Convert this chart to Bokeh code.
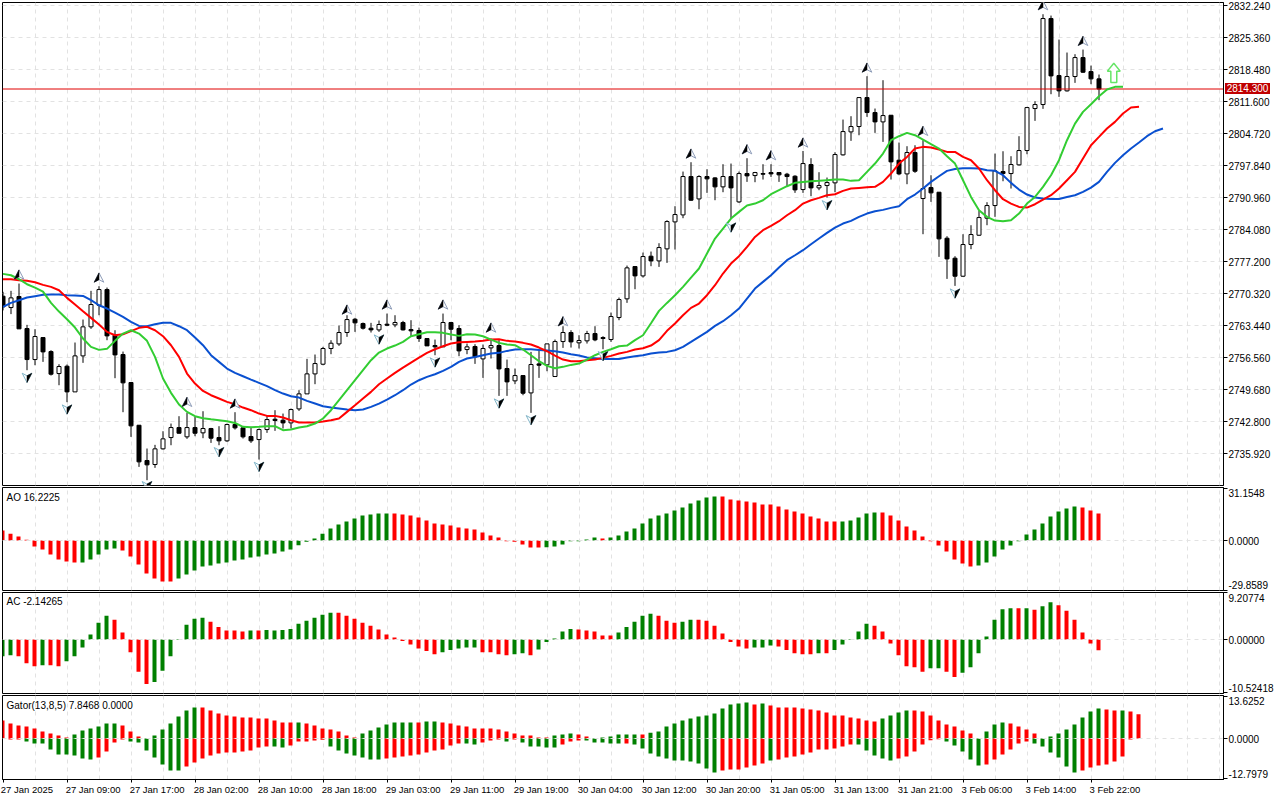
from bokeh.plotting import figure
from bokeh.layouts import column
from bokeh.embed import file_html
from bokeh.resources import INLINE
from bokeh.models import Range1d, FixedTicker, Label, Span, PrintfTickFormatter, LinearAxis, Div

# ---------- data ----------
opens = [2769.75,2767.31,2769.68,2762.8,2756.13,2760.86,2757.85,2753.12,2754.7,2749.18,
2756.92,2763.16,2767.81,2771.18,2761.36,2757.21,2751.19,2742.01,2734.42,2733.56,
2736.93,2739.36,2741.51,2739.51,2741.51,2740.37,2741.3,2739.36,2738.65,2742.16,
2741.44,2739.58,2738.93,2741.08,2743.3,2743.09,2742.51,2745.52,2748.75,2753.05,
2755.13,2758.5,2759.5,2761.94,2764.8,2763.87,2762.87,2762.51,2763.73,2763.59,
2764.09,2762.58,2762.37,2760.65,2759.14,2758.86,2764.09,2762.8,2758.28,2758.93,
2756.27,2758.64,2759.14,2754.2,2751.55,2752.69,2748.96,2755.2,2754.99,2752.48,
2760.0,2761.94,2759.72,2760.15,2761.72,2760.86,2760.43,2765.16,2769.18,2776.13,
2774.12,2778.35,2777.34,2779.93,2785.73,2787.23,2795.48,2790.67,2795.48,2795.19,
2793.26,2795.48,2790.03,2796.12,2795.69,2796.12,2796.34,2796.34,2795.98,2795.55,
2792.68,2798.06,2793.04,2793.54,2794.12,2800.14,2805.08,2806.23,2812.46,2809.24,
2807.23,2808.66,2798.99,2796.05,2800.64,2790.75,2793.11,2792.11,2782.22,2777.92,
2774.05,2780.86,2782.86,2786.52,2789.24,2796.55,2796.12,2797.99,2801.07,2810.1,
2810.96,2829.45,2817.19,2813.9,2816.98,2821.06,2818.05,2816.48]
highs = [2770.7,2770.9,2772.47,2763.59,2762.65,2760.9,2758.14,2755.13,2755.06,2759.79,
2764.73,2770.9,2771.9,2771.61,2762.44,2757.85,2751.2,2742.02,2737.0,2737.79,
2740.72,2742.37,2743.95,2744.67,2743.8,2745.02,2741.44,2741.8,2742.37,2744.81,
2741.66,2741.66,2741.3,2744.16,2745.24,2744.52,2745.6,2749.54,2756.28,2757.21,
2758.86,2760.29,2763.44,2765.66,2765.09,2764.09,2764.02,2764.52,2766.02,2765.66,
2764.45,2764.59,2763.0,2760.65,2760.43,2766.02,2764.23,2763.51,2759.57,2759.43,
2759.36,2760.65,2760.29,2756.13,2754.2,2752.69,2757.78,2758.14,2759.5,2760.43,
2763.3,2762.44,2761.36,2762.3,2763.3,2761.15,2766.24,2769.46,2776.34,2776.13,
2779.14,2779.35,2781.14,2786.09,2789.1,2796.55,2798.56,2795.76,2797.05,2795.33,
2798.13,2798.27,2796.55,2799.42,2796.48,2798.13,2798.13,2796.34,2796.27,2795.76,
2800.98,2799.42,2796.41,2795.26,2800.71,2807.73,2808.45,2812.46,2817.05,2810.1,
2816.19,2808.66,2802.79,2802.0,2802.21,2803.29,2795.76,2792.11,2782.65,2778.35,
2783.08,2785.01,2788.09,2789.96,2800.42,2800.92,2799.85,2804.15,2810.46,2811.67,
2830.38,2830.09,2824.93,2822.14,2821.78,2822.78,2819.34,2817.41]
lows = [2766.7,2765.9,2762.7,2753.84,2754.91,2755.63,2752.69,2750.61,2746.96,2749.18,
2755.42,2762.73,2765.66,2760.29,2752.12,2744.81,2739.5,2733.05,2730.19,2732.84,
2736.78,2737.71,2740.22,2739.08,2739.65,2739.22,2738.21,2737.71,2738.43,2741.08,
2739.15,2738.21,2734.63,2740.37,2740.8,2741.3,2741.3,2745.09,2748.75,2750.83,
2754.91,2757.28,2759.07,2761.01,2762.08,2762.58,2761.94,2762.08,2763.3,2763.08,
2762.37,2761.15,2759.93,2759.07,2757.06,2758.86,2760.29,2756.85,2757.28,2755.2,
2752.19,2756.35,2748.32,2748.32,2750.83,2748.46,2744.67,2752.19,2753.62,2752.48,
2758.64,2758.71,2758.5,2759.57,2760.07,2758.35,2759.93,2764.59,2768.32,2771.25,
2773.76,2776.2,2776.05,2776.92,2779.78,2786.52,2790.25,2788.45,2791.97,2790.39,
2792.11,2786.45,2789.82,2794.33,2794.26,2794.83,2795.4,2794.33,2793.26,2791.97,
2791.97,2791.25,2792.54,2790.96,2792.11,2799.99,2803.15,2804.36,2808.31,2804.87,
2802.93,2794.83,2795.76,2793.83,2796.27,2783.08,2790.03,2778.21,2773.47,2771.97,
2773.9,2779.85,2782.72,2785.01,2786.81,2794.47,2792.9,2797.84,2800.28,2807.45,
2810.03,2813.18,2812.61,2813.75,2815.62,2817.77,2815.33,2811.89]
closes = [2767.46,2769.39,2762.73,2756.13,2761.08,2757.78,2752.98,2754.63,2749.18,2756.92,
2763.16,2767.96,2771.18,2761.22,2757.13,2751.12,2741.87,2734.13,2733.49,2736.93,
2739.08,2741.51,2740.29,2741.51,2740.29,2741.3,2739.22,2738.65,2742.16,2741.44,
2739.51,2738.65,2741.08,2743.23,2743.02,2742.51,2745.38,2748.75,2753.05,2755.27,
2758.5,2759.64,2761.94,2764.73,2764.02,2762.87,2762.51,2763.66,2763.51,2764.09,
2762.51,2762.3,2760.65,2759.07,2758.86,2764.09,2762.65,2757.99,2758.86,2756.7,
2758.5,2759.14,2754.12,2751.33,2752.69,2748.89,2755.06,2754.91,2759.5,2760.0,
2761.94,2759.93,2760.22,2761.72,2760.36,2760.65,2765.38,2769.03,2775.84,2774.12,
2778.28,2777.34,2780.21,2785.8,2787.31,2795.48,2790.39,2795.48,2794.98,2793.26,
2795.48,2793.04,2796.12,2795.62,2796.34,2795.98,2796.05,2795.84,2795.48,2792.61,
2798.27,2793.04,2793.54,2794.19,2800.21,2805.15,2806.23,2812.46,2809.24,2807.23,
2808.59,2798.63,2796.05,2800.64,2796.62,2792.9,2791.97,2782.08,2777.77,2774.05,
2780.86,2783.01,2786.66,2789.24,2796.7,2796.12,2798.06,2801.07,2810.31,2810.96,
2829.45,2817.12,2813.9,2816.98,2821.06,2817.91,2816.48,2814.3]

lips = [2774.55,2774.26,2773.4,2772.33,2771.61,2770.75,2768.32,2766.45,2764.8,2763.01,
2760.65,2758.86,2758.21,2758.43,2760.15,2761.72,2762.44,2761.72,2760.15,2756.71,
2752.05,2748.97,2746.46,2744.88,2743.95,2743.52,2743.3,2743.09,2742.87,2742.51,
2741.66,2741.58,2741.66,2741.8,2741.8,2740.94,2741.08,2741.51,2741.8,2742.37,
2743.45,2745.24,2747.39,2749.54,2751.69,2753.84,2755.99,2757.64,2758.5,2759.14,
2759.93,2761.15,2761.58,2762.01,2762.01,2761.87,2761.51,2761.22,2761.58,2761.51,
2761.15,2760.43,2759.72,2759.36,2759.21,2758.28,2757.06,2755.77,2754.77,2754.27,
2754.56,2754.98,2755.27,2756.13,2757.06,2757.78,2758.35,2759.0,2759.14,2760.29,
2761.36,2763.94,2766.59,2768.31,2769.96,2771.76,2773.76,2775.7,2778.92,2782.15,
2784.3,2786.45,2787.88,2789.24,2789.67,2790.39,2791.68,2792.54,2793.4,2794.12,
2794.33,2794.47,2794.55,2794.69,2794.83,2794.83,2794.55,2794.69,2796.48,2798.27,
2800.42,2803.29,2804.15,2804.87,2804.36,2803.43,2802.43,2801.5,2799.85,2798.27,
2794.69,2791.1,2788.24,2786.81,2786.02,2785.87,2786.09,2787.52,2789.67,2791.1,
2793.25,2795.76,2799.0,2803.29,2806.87,2809.38,2811.03,2812.75,2814.18,2814.76,2814.76]
teeth = [2773.4,2773.4,2773.19,2773.05,2772.76,2772.19,2771.76,2771.04,2769.39,2767.96,
2766.52,2765.09,2763.66,2762.08,2761.36,2761.58,2762.24,2762.94,2763.16,2762.44,
2761.15,2759.21,2756.71,2753.12,2750.97,2749.39,2748.46,2747.75,2747.03,2746.53,
2745.81,2745.24,2744.52,2744.02,2744.02,2743.66,2743.09,2742.59,2742.59,2742.59,
2742.8,2743.09,2743.45,2744.88,2746.31,2747.75,2749.18,2750.83,2752.05,2753.27,
2754.41,2755.49,2756.56,2757.57,2758.35,2759.0,2759.57,2759.86,2759.93,2760.0,
2760.15,2760.43,2760.5,2760.15,2760.0,2759.72,2759.36,2758.71,2757.92,2756.99,
2756.13,2755.77,2755.77,2755.99,2756.13,2756.49,2756.92,2757.42,2757.78,2758.28,
2758.57,2759.14,2760.29,2762.3,2763.87,2765.66,2767.24,2768.17,2769.96,2772.11,
2774.62,2776.77,2778.35,2780.35,2782.5,2783.94,2784.87,2785.87,2787.16,2788.24,
2789.67,2790.39,2790.89,2791.46,2791.68,2792.4,2792.9,2793.04,2793.18,2793.26,
2794.33,2796.12,2798.27,2799.7,2801.5,2801.86,2801.71,2801.28,2800.78,2800.78,
2799.7,2798.99,2797.2,2794.69,2792.54,2790.6,2789.67,2788.95,2788.81,2789.53,
2790.53,2791.46,2792.9,2794.69,2796.48,2799.35,2802.21,2804.0,2805.8,2807.23,2809.02,2810.31,2810.46]
jaw = [2767.46,2768.32,2768.89,2769.46,2769.75,2770.04,2770.11,2770.11,2769.96,2769.89,
2769.82,2768.89,2767.81,2767.1,2766.24,2765.3,2764.23,2763.37,2763.3,2763.73,
2764.02,2764.02,2763.3,2762.44,2760.86,2759.21,2757.06,2755.63,2754.2,2753.26,
2752.55,2751.83,2751.12,2750.4,2749.54,2748.82,2748.25,2747.96,2747.24,2746.67,
2746.1,2745.81,2745.6,2745.38,2745.24,2745.38,2745.95,2746.67,2747.53,2748.46,
2749.54,2750.76,2751.69,2752.4,2752.98,2753.7,2754.56,2755.63,2756.35,2756.7,
2757.06,2757.42,2757.57,2757.99,2758.28,2758.35,2758.35,2758.21,2758.07,2757.92,
2757.64,2757.28,2756.99,2756.56,2756.42,2756.27,2756.27,2756.27,2756.56,2756.85,
2757.06,2757.42,2757.64,2757.78,2758.14,2758.86,2759.93,2761.01,2762.08,2763.37,
2764.37,2765.66,2767.1,2769.25,2771.4,2772.83,2774.26,2775.91,2777.49,2778.56,
2779.64,2780.93,2782.15,2783.36,2784.51,2785.37,2785.95,2786.8,2787.52,2788.02,
2788.31,2788.74,2789.1,2790.6,2791.61,2792.9,2794.33,2795.55,2796.7,2797.12,
2797.27,2797.27,2797.2,2796.84,2796.7,2795.76,2794.12,2792.68,2791.61,2790.96,
2790.75,2790.67,2790.67,2791.1,2791.46,2792.18,2793.11,2794.33,2796.48,2798.42,
2800.06,2801.5,2802.79,2804.15,2805.22,2805.8]

ao_values = [6.0,4.0,2.4,0.4,-3.6,-5.4,-8.4,-11.4,-12.6,-13.2,
-13.2,-11.4,-8.4,-5.4,-4.8,-6.0,-9.6,-14.4,-19.8,-22.8,
-24.6,-24.6,-22.8,-20.4,-18.0,-15.6,-15.0,-13.8,-13.2,-12.0,
-11.4,-10.2,-9.6,-8.4,-7.8,-6.6,-5.4,-2.8,-0.8,1.2,
4.0,7.2,9.6,11.4,13.2,15.0,15.6,16.2,16.2,16.2,
15.6,15.0,13.8,12.0,10.2,9.6,9.0,7.8,7.2,6.6,
4.8,3.0,1.8,-0.4,-0.8,-2.4,-4.2,-4.2,-4.0,-3.6,
-2.4,-0.4,-0.4,0.6,1.8,1.2,1.8,3.0,5.4,7.2,
10.2,13.2,15.0,16.2,18.0,19.8,22.2,24.0,25.8,26.4,
26.4,24.6,24.0,23.4,22.8,21.6,21.6,20.4,18.6,17.4,
16.2,14.4,13.2,11.4,11.4,11.4,12.0,13.8,16.2,16.8,
16.8,15.0,12.0,8.4,6.0,2.4,-0.4,-3.0,-6.6,-11.4,
-13.8,-15.6,-15.0,-13.2,-9.6,-5.4,-3.0,-0.4,3.6,6.6,
10.2,14.4,17.4,19.2,20.4,19.8,18.0,16.2225]
ao_dir = "r"*10+"g"*5+"r"*7+"g"*27+"r"*19+"g"*7+"r"+"g"*14+"r"*15+"g"*5+"r"*12+"g"*13+"r"*3

ac_values = [-3.3,-3.1,-3.3,-4.7,-5.3,-5.1,-5.1,-5.3,-4.3,-3.3,
-1.6,1.0,3.3,4.7,3.9,1.4,-2.5,-6.4,-8.8,-8.4,
-6.2,-3.3,-0.1,2.9,4.1,4.3,3.5,2.5,1.8,1.8,
1.6,1.8,1.8,1.9,1.8,1.9,2.1,3.1,3.7,4.3,
4.9,5.3,5.3,4.7,4.1,3.3,2.7,2.0,1.0,0.4,
-0.3,-1.0,-1.8,-2.3,-2.9,-2.5,-2.1,-1.8,-1.6,-1.6,
-2.5,-2.5,-2.9,-3.1,-2.9,-2.7,-3.1,-2.0,-0.5,0.2,
1.6,2.1,2.0,1.8,1.6,0.8,0.8,1.4,2.5,3.5,
4.7,5.1,4.7,3.7,3.3,3.5,3.9,3.9,3.7,2.7,
1.2,-0.5,-1.4,-1.8,-1.6,-1.6,-1.2,-1.4,-2.1,-2.7,
-2.9,-2.9,-2.7,-2.7,-2.1,-1.0,0.1,1.6,3.1,2.7,
1.6,-0.8,-3.1,-5.3,-5.5,-6.4,-5.7,-5.7,-6.4,-7.4,
-6.6,-5.5,-2.7,0.6,3.9,6.0,6.2,6.2,6.2,5.9,
6.6,7.4,6.8,5.7,3.9,1.4,-0.8,-2.14265]
ac_dir = ("ggrrrgrrgg""ggggrrrrrg""ggggggrrrr""rgrggggggg""ggrrrrrrrr""rrrrrggggg""rrrrggrggg"
          "ggrrrrrggg""ggrrrggrrr""rrrrgggrrr""rrgrgggggr""rrrrrrggrr""gggggggrgr""ggrrrrrr")

gator_upper = [5.8,4.83,4.19,3.87,3.22,2.26,1.61,.97,.32,1.29,
2.58,3.22,3.87,4.83,4.83,4.19,2.26,.64,0,.97,
2.9,4.83,7.09,9.02,9.99,9.99,9.02,8.06,7.41,7.09,
6.77,6.77,6.44,6.44,5.8,5.16,5.16,5.16,4.83,4.19,
3.22,2.9,2.26,.97,.32,1.61,2.58,3.54,4.51,5.16,
5.16,5.16,5.16,5.48,5.48,5.16,4.83,4.19,3.87,3.22,
3.22,3.22,2.9,2.26,1.61,.97,.97,.32,.32,.97,
1.29,1.61,1.29,.64,0,.32,.64,1.29,1.29,1.29,
1.29,1.83,2.26,3.87,4.83,5.8,6.44,7.09,7.41,8.06,
9.67,10.95,11.28,11.6,10.95,11.28,10.63,9.99,9.99,9.99,
9.67,9.34,9.02,8.38,7.41,7.41,6.77,6.44,5.8,5.48,
6.44,7.41,8.38,9.02,9.02,8.7,7.41,5.8,4.51,3.87,
2.58,1.61,0,2.26,4.51,5.16,4.83,3.87,2.9,1.61,
0,.64,1.61,2.9,4.51,6.77,8.7,9.67,9.34,9.02,
9.02,8.7,7.8468]
gator_upper_dir = ("r"*9+"g"*6+"r"*4+"g"*6+"r"*12+"g"+"r"*7+"g"*7+"r"+"g"*2+"r"*14+"g"*3+"r"*3+"g"*5+"r"
                   +"g"*13+"r"+"g"+"r"*14+"g"*4+"r"*9+"g"*3+"r"*5+"g"*7+"r"*2+"g"+"r"*2)
gator_lower = [0,-.32,-.32,-.97,-1.61,-1.61,-3.54,-5.16,-5.16,-5.48,
-6.44,-6.77,-6.12,-4.19,-1.29,-.32,-.97,-1.29,-3.87,-6.12,
-8.38,-10.31,-10.31,-9.02,-7.73,-6.44,-5.48,-4.83,-4.51,-4.51,
-4.19,-3.87,-2.9,-2.58,-2.58,-2.9,-2.26,-.97,-.97,-.64,
-.43,-2.58,-3.87,-4.83,-5.48,-6.12,-6.77,-6.77,-6.44,-6.12,
-5.8,-5.48,-5.16,-4.51,-3.87,-3.54,-2.26,-1.61,-1.61,-1.93,
-1.29,-.64,-.32,-.97,-.32,-1.29,-2.58,-2.58,-2.9,-2.9,
-1.93,-.97,-.64,-.64,-1.29,-1.29,-1.61,-1.61,-1.61,-1.93,
-3.22,-4.83,-5.8,-6.44,-7.09,-7.09,-7.41,-8.06,-9.67,-10.95,
-10.31,-9.99,-9.99,-9.34,-8.7,-8.06,-7.09,-6.77,-6.12,-5.8,
-5.16,-4.51,-3.54,-3.54,-3.22,-2.58,-1.93,-1.93,-3.87,-5.48,
-6.44,-7.09,-6.44,-5.8,-4.19,-1.93,-.54,-.21,-.97,-2.26,
-4.19,-6.77,-8.7,-8.38,-6.77,-5.16,-3.54,-1.61,-.97,-1.61,
-2.58,-4.51,-6.12,-9.02,-10.95,-10.31,-9.34,-8.7,-8.38,-7.41,
-5.8,-.32,0]
gator_lower_dir = ("r"*3+"g"*9+"r"*4+"g"*7+"r"*11+"g"*2+"r"*5+"g"*7+"r"*10+"g"*2+"r"*3+"g"+"r"+"g"*5+"r"*3+"g"*5+"r"
                   +"g"*11+"r"*6+"g"+"r"*10+"g"*5+"r"*6+"g"*5+"r"*6+"g"*6+"r"*8)

fractal_up_bar = [2,12,23,29,43,48,55,61,70,86,93,96,100,108,115,130,135]
fractal_up_price = [2774.41,2773.76,2747.03,2746.67,2766.88,2767.96,2767.96,2763.01,2764.37,
                    2800.42,2801.35,2800.06,2802.79,2818.91,2805.3,2832.32,2824.65]
fractal_down_bar = [3,8,18,27,32,47,54,62,66,75,91,103,119]
fractal_down_price = [2752.19,2745.38,2728.9,2736.21,2733.05,2760.43,2755.49,2746.67,2743.09,
                      2756.85,2784.51,2789.31,2770.32]
signal_bar = [138.85]
signal_price = [2817.8]
last_price = 2814.3

price_ticks = [2832.24,2825.36,2818.48,2811.6,2804.72,2797.84,2790.96,2784.08,2777.2,2770.32,
               2763.44,2756.56,2749.68,2742.8,2735.92]
time_labels = ["27 Jan 2025","27 Jan 09:00","27 Jan 17:00","28 Jan 02:00","28 Jan 10:00","28 Jan 18:00",
               "29 Jan 03:00","29 Jan 11:00","29 Jan 19:00","30 Jan 04:00","30 Jan 12:00","30 Jan 20:00",
               "31 Jan 05:00","31 Jan 13:00","31 Jan 21:00","3 Feb 06:00","3 Feb 14:00","3 Feb 22:00"]

# ---------- style ----------
GRID = "#e2e2e2"
FONT = "Liberation Sans"
FS = "10px"
GREEN, RED = "#008000", "#ff0000"
cmap = {"g": GREEN, "r": RED}
x_range = Range1d(-0.0625, 152.5625)
grid_ticks = list(range(4, 153, 4))


def base(height, top, bottom, y0, y1, yticks):
    p = figure(width=1280, height=height, x_range=x_range, y_range=Range1d(y0, y1),
               output_backend="svg", toolbar_location=None, y_axis_location="right",
               min_border_left=2, min_border_right=57, min_border_top=top, min_border_bottom=bottom,
               background_fill_color="white", border_fill_color="white")
    p.outline_line_color = "black"
    p.outline_line_width = 1
    p.outline_line_alpha = 1
    p.xaxis.visible = False
    p.xgrid.ticker = FixedTicker(ticks=grid_ticks)
    p.xgrid.grid_line_color = GRID
    p.xgrid.grid_line_dash = "4 4"
    p.ygrid.grid_line_color = None
    ax = p.yaxis[0]
    ax.ticker = FixedTicker(ticks=yticks)
    ax.major_tick_in = 0
    ax.major_tick_out = 4
    ax.minor_tick_out = 0
    ax.minor_tick_in = 0
    ax.major_tick_line_color = "black"
    ax.axis_line_color = "black"
    ax.major_label_text_font = FONT
    ax.major_label_text_font_size = FS
    ax.major_label_text_color = "black"
    ax.major_label_standoff = 1
    return p


# ---------- main panel ----------
main = base(487, 2, 2, 2729.05, 2832.9, price_ticks)
main.yaxis[0].formatter = PrintfTickFormatter(format="%.3f")
main.ygrid.grid_line_color = GRID
main.ygrid.grid_line_dash = "4 4"
main.ygrid.ticker = FixedTicker(ticks=price_ticks)

bars = list(range(len(opens)))
main.segment(bars, lows, bars, highs, line_color="black", line_width=1)
main.vbar(bars, width=0.5, top=[max(a, b) for a, b in zip(opens, closes)],
          bottom=[min(a, b) for a, b in zip(opens, closes)],
          fill_color=["white" if c >= o else "black" for o, c in zip(opens, closes)],
          line_color="black", line_width=1)
main.segment([x_range.start], [last_price], [x_range.end], [last_price], line_color="#e00000", line_width=1)
main.line(list(range(len(jaw))), jaw, line_color="#0a50d0", line_width=2)
main.line(list(range(len(teeth))), teeth, line_color=RED, line_width=2)
main.line(list(range(len(lips))), lips, line_color="#32cd32", line_width=2)

HW, HH, NOTCH = 0.6, 1.0, 0.45   # half width in bars, half height and notch in price units
for sign, bs, ps, dark_side, edge in ((1, fractal_up_bar, fractal_up_price, -1, "#8d9cb8"),
                                      (-1, fractal_down_bar, fractal_down_price, 1, "#7fb4c8")):
    main.patches([[b, b + HW, b, b - HW] for b in bs],
                 [[v + sign * HH, v - sign * HH, v - sign * NOTCH, v - sign * HH] for v in ps],
                 fill_color="white", line_color=edge, line_width=1)
    main.patches([[b, b + dark_side * HW, b] for b in bs],
                 [[v + sign * HH, v - sign * HH, v - sign * NOTCH] for v in ps],
                 fill_color="black", line_color="black", line_width=0.5)

for b, v in zip(signal_bar, signal_price):
    main.patch([b, b + 0.8, b + 0.37, b + 0.37, b - 0.37, b - 0.37, b - 0.8],
               [v + 2.05, v + 0.34, v + 0.34, v - 2.1, v - 2.1, v + 0.34, v + 0.34],
               fill_color="white", line_color="#66e566", line_width=1.5)

# the last-price tag sits on the price scale, over the axis area
tag = Div(text="2814.300", width=45, height=11, margin=0,
          styles={"position": "absolute", "left": "1225px", "top": "83px", "width": "45px", "height": "11px",
                  "background-color": "#c00000", "color": "white", "font-family": FONT, "font-size": "10px",
                  "line-height": "11px", "text-align": "center", "z-index": "10", "overflow": "hidden"})


# ---------- lower panels ----------
def histogram(p, values, dirs):
    xs = [i - 0.0625 for i in range(len(values))]
    p.vbar(xs, width=0.5, top=values, bottom=0, fill_color=[cmap[d] for d in dirs], line_color=None)


def panel(height, top, bottom, y0, y1, lo, hi, zero_text, lo_text, hi_text, lo_y, hi_y, title, title_y):
    p = base(height, top, bottom, y0, y1, [lo, 0, hi])
    # first axis: tick marks at the true scale limits, no text
    p.yaxis[0].major_label_overrides = {lo: "", 0: "", hi: ""}
    p.yaxis[0].major_label_standoff = 0
    # second axis: the scale texts, which the terminal keeps inside the panel
    lab = LinearAxis(ticker=FixedTicker(ticks=[lo_y, 0, hi_y]),
                     major_label_overrides={lo_y: lo_text, 0: zero_text, hi_y: hi_text},
                     major_tick_in=0, major_tick_out=0, minor_tick_in=0, minor_tick_out=0,
                     axis_line_color=None, major_label_standoff=1,
                     major_label_text_font=FONT, major_label_text_font_size=FS,
                     major_label_text_color="black")
    p.add_layout(lab, "right")
    p.add_layout(Label(x=0.44, y=title_y, text=title, text_font=FONT, text_font_size=FS,
                       text_baseline="middle", text_color="black"))
    p.add_layout(Span(location=0, dimension="width", line_color=GRID, line_dash="4 4", line_width=1,
                      level="overlay"))
    return p


ao = panel(104, 0, 1, -30.0, 31.8, -29.8589, 31.1548, "0.0000", "-29.8589", "31.1548", -26.6, 28.4,
           "AO 16.2225", 26.0)
histogram(ao, ao_values, ao_dir)

ac = panel(103, 1, 1, -10.69, 9.306, -10.52418, 9.20774, "0.00000", "-10.52418", "9.20774", -9.56, 8.26,
           "AC -2.14265", 7.5)
histogram(ac, ac_values, ac_dir)

gator = panel(106, 1, 21, -13.2, 13.85, -12.7979, 13.6252, "0.0000", "-12.7979", "13.6252", -11.37, 12.0,
              "Gator(13,8,5) 7.8468 0.0000", 10.7)
histogram(gator, gator_upper, gator_upper_dir)
histogram(gator, gator_lower, gator_lower_dir)

# time scale: tick marks on the first axis, left-anchored texts on the second
gator.xaxis.visible = True
xa = gator.xaxis[0]
tick_bars = [8 * k for k in range(len(time_labels))]
xa.ticker = FixedTicker(ticks=tick_bars)
xa.major_label_overrides = {t: "" for t in tick_bars}
xa.major_label_standoff = 0
xa.major_tick_in = 0
xa.major_tick_out = 3
xa.minor_tick_out = 0
xa.minor_tick_in = 0
xa.axis_line_color = "black"
label_ticks = [t + len(s) * 4.35 / 2 / 8 for t, s in zip(tick_bars, time_labels)]
xl = LinearAxis(ticker=FixedTicker(ticks=label_ticks),
                major_label_overrides=dict(zip(label_ticks, time_labels)),
                major_tick_in=0, major_tick_out=0, minor_tick_in=0, minor_tick_out=0,
                axis_line_color=None, major_label_standoff=1,
                major_label_text_font=FONT, major_label_text_font_size="9.5px", major_label_text_color="black")
gator.add_layout(xl, "below")

page = column(main, ao, ac, gator, tag, spacing=0)
open("out.html", "w").write(file_html(page, INLINE))
